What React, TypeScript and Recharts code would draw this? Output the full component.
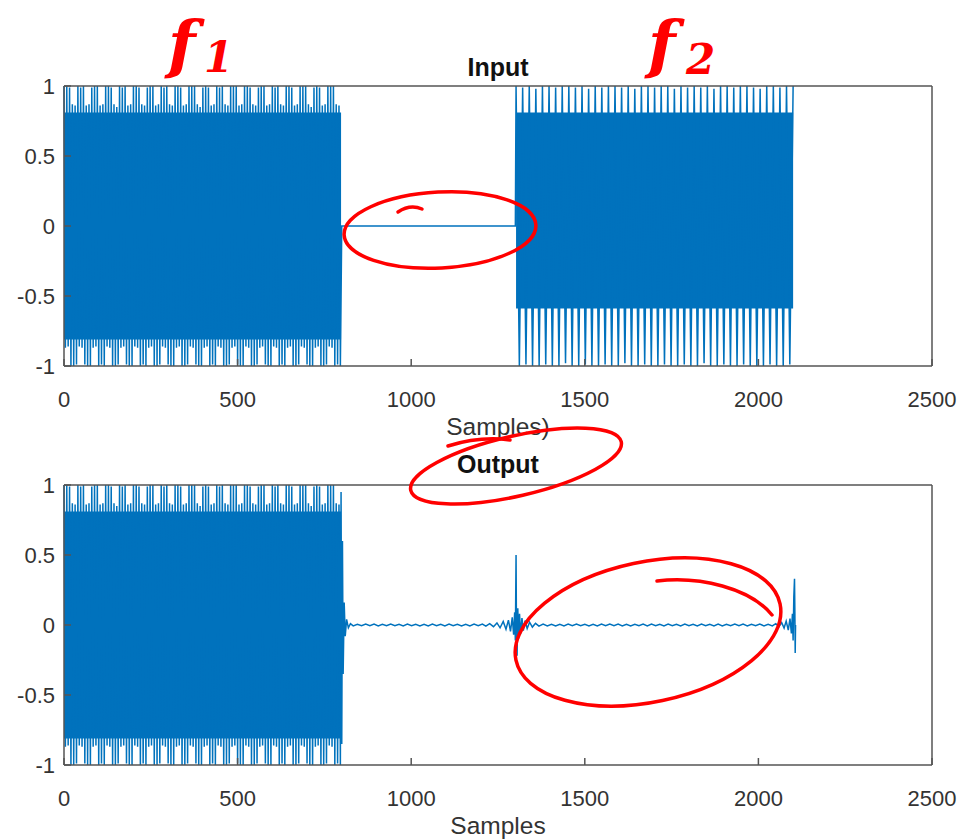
import { Area, ComposedChart, Line, XAxis, YAxis } from 'recharts';

// sample positions on the x axis
const xTicks = [0, 500, 1000, 1500, 2000, 2500];
const yTicks = [-1, -0.5, 0, 0.5, 1];

// f1 burst: 0 .. 796, one extreme every 4 samples
const f1Start = 0;
const f1Step = 4;
const f1Peaks = [
  1, -0.87, 1, -0.86, 0.99, -1, 0.87, -1, 0.86, -0.99,
  1, -0.86, 0.99, -0.87, 1, -0.99, 0.86, -1, 0.87, -1,
  0.99, -0.87, 1, -0.86, 1, -1, 0.86, -0.99, 0.87, -1,
  1, -0.86, 1, -0.87, 0.99, -1, 0.87, -1, 0.85, -0.99,
  1, -0.87, 0.99, -0.86, 1, -0.99, 0.86, -1, 0.87, -1,
  1, -0.86, 1, -0.87, 0.99, -1, 0.87, -0.99, 0.86, -1,
  0.99, -0.87, 1, -0.86, 1, -1, 0.86, -1, 0.87, -0.99,
  1, -0.86, 0.99, -0.87, 1, -0.99, 0.87, -1, 0.86, -1,
  1, -0.87, 1, -0.86, 0.99, -1, 0.86, -1, 0.87, -0.99,
  1, -0.86, 1, -0.87, 1, -0.99, 0.87, -1, 0.85, -1,
  0.99, -0.87, 1, -0.86, 0.99, -1, 0.86, -0.99, 0.87, -1,
  1, -0.86, 0.99, -0.87, 1, -1, 0.87, -1, 0.86, -0.99,
  1, -0.87, 1, -0.86, 1, -0.99, 0.86, -1, 0.87, -1,
  1, -0.86, 1, -0.87, 0.99, -1, 0.87, -1, 0.86, -0.99,
  0.99, -0.87, 1, -0.86, 1, -0.99, 0.86, -1, 0.87, -1,
  1, -0.86, 0.99, -0.87, 1, -1, 0.87, -0.99, 0.86, -1,
  1, -0.87, 1, -0.86, 0.99, -1, 0.86, -1, 0.87, -0.99,
  1, -0.86, 1, -0.87, 1, -0.99, 0.87, -1, 0.85, -1,
  0.99, -0.87, 1, -0.86, 0.99, -1, 0.86, -1, 0.87, -0.99,
  1, -0.86, 1, -0.87, 1, -1, 0.87, -0.99, 0.86, -1
];

// f2 burst: 1302 .. 2100, one extreme every 9.5 samples
const f2Start = 1302;
const f2Step = 9.5;
const f2Peaks = [
  1, -1, 0.99, -0.99, 1, -1, 0.98, -1, 1, -0.99,
  1, -1, 0.99, -1, 1, -0.98, 1, -1, 0.99, -1,
  1, -0.99, 0.98, -1, 1, -1, 0.99, -0.99, 1, -1,
  1, -1, 0.99, -0.98, 1, -1, 0.98, -1, 1, -0.99,
  1, -1, 0.99, -1, 1, -0.99, 1, -1, 0.98, -1,
  1, -0.99, 0.99, -1, 1, -1, 0.99, -0.98, 1, -1,
  0.98, -1, 1, -0.99, 1, -1, 0.99, -1, 1, -0.99,
  1, -1, 0.99, -1, 0.98, -1, 1, -0.99, 1, -1,
  0.99, -1, 1, -0.99, 1
];

// solid core of each burst [low, high]
const f1Core: [number, number] = [-0.81, 0.81];
const f2Core: [number, number] = [-0.59, 0.81];

// output after the f1 burst: short decay at 800
const outEdge800: [number, number][] = [
  [798, 0.95], [800, -0.85], [802, 0.6], [804, -0.35], [807, 0.16],
  [810, -0.08], [814, 0.04], [819, -0.02], [825, 0.01]
];

// residual noise 833 .. 1205, every 12 samples
const quietAStart = 833;
const quietAStep = 12;
const quietA = [
  -0.006, 0.005, -0.005, 0.006, -0.005, 0.006, -0.006, 0.005, -0.005, 0.006,
  -0.005, 0.005, -0.006, 0.006, -0.005, 0.005, -0.006, 0.005, -0.006, 0.006,
  -0.005, 0.005, -0.006, 0.006, -0.005, 0.005, -0.006, 0.005, -0.006, 0.006,
  -0.005, 0.006
];

// ringing around the f2 onset
const outRing1300: [number, number][] = [
  [1215, -0.008], [1226, 0.01], [1237, -0.012], [1247, 0.015], [1256, -0.02],
  [1265, 0.025], [1273, -0.03], [1280, 0.035], [1286, -0.045], [1291, 0.055],
  [1295, -0.07], [1298, 0.09], [1300, -0.11], [1302, 0.5], [1303, 0.05],
  [1305, -0.22], [1307, 0.12], [1309, -0.1], [1312, 0.08], [1315, -0.065],
  [1319, 0.05], [1323, -0.04], [1328, 0.032], [1334, -0.025], [1341, 0.02],
  [1349, -0.015], [1358, 0.012], [1368, -0.008]
];

// residual noise 1380 .. 2040, every 12 samples
const quietBStart = 1380;
const quietBStep = 12;
const quietB = [
  0.006, -0.006, 0.005, -0.006, 0.005, -0.006, 0.006, -0.005, 0.006, -0.005,
  0.005, -0.006, 0.005, -0.006, 0.006, -0.005, 0.006, -0.005, 0.006, -0.006,
  0.005, -0.006, 0.005, -0.005, 0.006, -0.006, 0.006, -0.005, 0.005, -0.006,
  0.006, -0.005, 0.005, -0.006, 0.006, -0.005, 0.005, -0.006, 0.006, -0.005,
  0.005, -0.006, 0.006, -0.006, 0.005, -0.005, 0.006, -0.005, 0.006, -0.006,
  0.005, -0.005, 0.006, -0.006, 0.005, -0.006
];

// ringing around the f2 end
const outRing2100: [number, number][] = [
  [2050, 0.01], [2059, -0.013], [2067, 0.017], [2074, -0.022], [2080, 0.028],
  [2086, -0.036], [2091, 0.046], [2095, -0.06], [2098, 0.08], [2100, -0.11],
  [2102, 0.2], [2104, 0.33], [2105, 0.1], [2106, -0.2], [2107, 0]
];

const BLUE = '#0072BD';
const AXIS = '#555555';
const FONT = '"Liberation Sans", Arial, sans-serif';
const RED = '#ff0000';

type Pt = { t: number; v?: number; band?: [number, number] | null };

const burst = (start: number, step: number, vals: number[]): Pt[] =>
  vals.map((v, i) => ({ t: start + i * step, v }));

const pairs = (list: [number, number][]): Pt[] => list.map(([t, v]) => ({ t, v }));

const inputLine: Pt[] = [
  ...burst(f1Start, f1Step, f1Peaks),
  { t: 800, v: 0 },
  { t: 1300, v: 0 },
  ...burst(f2Start, f2Step, f2Peaks)
];

const inputBand: Pt[] = [
  { t: 0, band: f1Core },
  { t: 798, band: f1Core },
  { t: 1000, band: null },
  { t: 1302, band: f2Core },
  { t: 2100, band: f2Core }
];

const outputLine: Pt[] = [
  ...burst(f1Start, f1Step, f1Peaks),
  ...pairs(outEdge800),
  ...burst(quietAStart, quietAStep, quietA),
  ...pairs(outRing1300),
  ...burst(quietBStart, quietBStep, quietB),
  ...pairs(outRing2100)
];

const outputBand: Pt[] = [
  { t: 0, band: f1Core },
  { t: 798, band: f1Core }
];

const tickStyle = { fill: '#333', fontSize: 22, fontFamily: FONT };

function Panel({
  line,
  band,
  label,
  top,
  height,
  marginTop
}: {
  line: Pt[];
  band: Pt[];
  label: string;
  top: number;
  height: number;
  marginTop: number;
}) {
  return (
    <div style={{ position: 'absolute', left: 0, top }}>
      <ComposedChart
        width={973}
        height={height}
        margin={{ top: marginTop, right: 31, bottom: 44, left: 4 }}
      >
        <XAxis
          xAxisId='b'
          dataKey='t'
          type='number'
          domain={[0, 2500]}
          ticks={xTicks}
          height={30}
          tickSize={-7}
          tickMargin={32}
          stroke={AXIS}
          strokeWidth={1.5}
          tick={tickStyle}
          allowDuplicatedCategory={false}
          label={{
            value: label,
            position: 'bottom',
            offset: 22,
            fill: '#333',
            fontSize: 24.5,
            fontFamily: FONT
          }}
        />
        <XAxis
          xAxisId='t'
          dataKey='t'
          type='number'
          orientation='top'
          domain={[0, 2500]}
          ticks={xTicks}
          height={10}
          tickSize={-7}
          stroke={AXIS}
          strokeWidth={1.5}
          tick={false}
        />
        <YAxis
          yAxisId='l'
          type='number'
          domain={[-1, 1]}
          ticks={yTicks}
          width={60}
          tickSize={-7}
          tickMargin={16}
          stroke={AXIS}
          strokeWidth={1.5}
          tick={tickStyle}
          allowDataOverflow
        />
        <YAxis
          yAxisId='r'
          type='number'
          orientation='right'
          domain={[-1, 1]}
          ticks={yTicks}
          width={10}
          tickSize={-7}
          stroke={AXIS}
          strokeWidth={1.5}
          tick={false}
        />
        <Area
          xAxisId='b'
          yAxisId='l'
          data={band}
          dataKey='band'
          type='linear'
          stroke='none'
          fill={BLUE}
          fillOpacity={1}
          isAnimationActive={false}
        />
        <Line
          xAxisId='b'
          yAxisId='l'
          data={line}
          dataKey='v'
          type='linear'
          stroke={BLUE}
          strokeWidth={1.5}
          dot={false}
          isAnimationActive={false}
        />
      </ComposedChart>
    </div>
  );
}

function Annotations() {
  return (
    <svg
      width={973}
      height={839}
      style={{ position: 'absolute', left: 0, top: 0, pointerEvents: 'none' }}
    >
      <text x={498} y={76} textAnchor='middle' fontFamily={FONT} fontWeight='bold' fontSize={25} fill='#111'>
        Input
      </text>
      <text x={498} y={473} textAnchor='middle' fontFamily={FONT} fontWeight='bold' fontSize={25} fill='#111'>
        Output
      </text>
      <g fill={RED} fontFamily='"DejaVu Serif", serif' fontStyle='italic' fontWeight='bold'>
        <text x={168} y={66} fontSize={64}>f</text>
        <text x={204} y={72} fontSize={42}>1</text>
        <text x={648} y={66} fontSize={64}>f</text>
        <text x={686} y={74} fontSize={42}>2</text>
      </g>
      <g fill='none' stroke={RED} strokeWidth={3.5} strokeLinecap='round'>
        <ellipse cx={440} cy={230} rx={96} ry={38} transform='rotate(-3 440 230)' />
        <path d='M 398 212 Q 410 204 422 209' />
        <ellipse cx={516} cy={466} rx={108} ry={30} transform='rotate(-13 516 466)' />
        <path d='M 448 446 Q 480 436 510 440' />
        <ellipse cx={648} cy={632} rx={135} ry={70} transform='rotate(-12 648 632)' />
        <path d='M 657 581 C 700 576 750 588 772 615' />
      </g>
    </svg>
  );
}

export default function App() {
  return (
    <div
      style={{
        position: 'absolute',
        left: 0,
        top: 0,
        width: 973,
        height: 839,
        background: '#fff',
        overflow: 'hidden'
      }}
    >
      <Panel line={inputLine} band={inputBand} label='Samples)' top={0} height={440} marginTop={76} />
      <Panel line={outputLine} band={outputBand} label='Samples' top={440} height={399} marginTop={35} />
      <Annotations />
    </div>
  );
}
